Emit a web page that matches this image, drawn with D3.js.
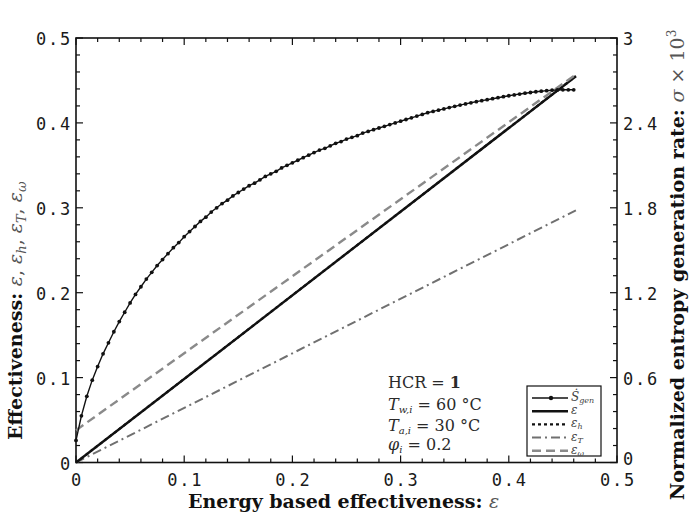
<!DOCTYPE html>
<html>
<head>
<meta charset="utf-8">
<script src="https://cdn.jsdelivr.net/npm/d3@7"></script>
<style>
  body { margin: 0; background: #fff; }
  svg { display: block; }
  .tick-lbl { font-family: "DejaVu Sans Mono", monospace; font-size: 17px; fill: #1a1a1a; letter-spacing: 1.8px; }
  .ttl { font-family: "DejaVu Serif", serif; font-size: 19px; fill: #111; }
  .note { font-family: "DejaVu Serif", serif; font-size: 16px; fill: #2a2a2a; }
  .leg { font-family: "DejaVu Serif", serif; font-size: 12px; fill: #444; font-style: italic; }
</style>
</head>
<body>
<svg id="chart" width="689" height="517"></svg>
<script>
"use strict";

// ---- data ----
var xTicks = [0, 0.1, 0.2, 0.3, 0.4, 0.5];
var yTicks = [0, 0.1, 0.2, 0.3, 0.4, 0.5];
var rTicks = [0, 0.6, 1.2, 1.8, 2.4, 3];

// entropy generation sigma x 10^3 (right axis), sampled every 0.005 in epsilon
var sgenX = d3.range(0, 0.4601, 0.005);
var sgenY = [0.156, 0.33, 0.468, 0.582, 0.678, 0.768, 0.846, 0.924, 0.996, 1.062,
    1.128, 1.188, 1.242, 1.296, 1.344, 1.392, 1.434, 1.476, 1.518, 1.554,
    1.596, 1.632, 1.668, 1.704, 1.734, 1.77, 1.8, 1.83, 1.854, 1.884,
    1.908, 1.932, 1.956, 1.974, 1.998, 2.022, 2.04, 2.058, 2.082, 2.1,
    2.118, 2.136, 2.154, 2.172, 2.19, 2.208, 2.22, 2.238, 2.256, 2.268,
    2.286, 2.298, 2.31, 2.328, 2.34, 2.352, 2.364, 2.376, 2.388, 2.4,
    2.412, 2.424, 2.436, 2.448, 2.46, 2.472, 2.481, 2.49, 2.499, 2.508,
    2.517, 2.526, 2.534, 2.542, 2.55, 2.557, 2.564, 2.571, 2.578, 2.585,
    2.592, 2.598, 2.604, 2.61, 2.615, 2.62, 2.624, 2.628, 2.631, 2.633,
    2.634, 2.634, 2.634];

// straight effectiveness lines: y at the two ends of effX
var effX   = [0, 0.462];
var effE   = [0, 0.455];
var effH   = [0, 0.455];
var effT   = [0, 0.297];
var effW   = [0.038, 0.457];

// ---- layout ----
var m = { left: 76, top: 38, right: 617, bottom: 462.5 };

var svg = d3.select("#chart");

var x  = d3.scaleLinear().domain([0, 0.5]).range([m.left, m.right]);
var y  = d3.scaleLinear().domain([0, 0.5]).range([m.bottom, m.top]);
var yr = d3.scaleLinear().domain([0, 3]).range([m.bottom, m.top]);

// ticks, pointing inward on all four sides
var minorX = d3.range(0, 0.5001, 0.02);
var gt = svg.append("g").attr("stroke", "#111").attr("stroke-width", 1.2);

function isMajor(v) { return Math.abs(v * 10 - Math.round(v * 10)) < 1e-6; }

minorX.forEach(function (v) {
    let len = isMajor(v) ? 7 : 4;
    gt.append("line").attr("x1", x(v)).attr("x2", x(v))
        .attr("y1", m.bottom).attr("y2", m.bottom - len);
    gt.append("line").attr("x1", x(v)).attr("x2", x(v))
        .attr("y1", m.top).attr("y2", m.top + len);
    gt.append("line").attr("y1", y(v)).attr("y2", y(v))
        .attr("x1", m.left).attr("x2", m.left + len);
    gt.append("line").attr("y1", y(v)).attr("y2", y(v))
        .attr("x1", m.right).attr("x2", m.right - len);
});

// frame
svg.append("rect")
    .attr("x", m.left).attr("y", m.top)
    .attr("width", m.right - m.left).attr("height", m.bottom - m.top)
    .attr("fill", "none").attr("stroke", "#111").attr("stroke-width", 1.6);

// tick labels
svg.selectAll(".xl").data(xTicks).enter().append("text")
    .attr("class", "tick-lbl")
    .attr("x", (d) => x(d) + 1).attr("y", m.bottom + 23)
    .attr("text-anchor", "middle")
    .text((d) => d === 0 ? "0" : d.toFixed(1));

svg.selectAll(".yl").data(yTicks).enter().append("text")
    .attr("class", "tick-lbl")
    .attr("x", m.left - 4).attr("y", (d) => y(d) + 7)
    .attr("text-anchor", "end")
    .text((d) => d === 0 ? "0" : d.toFixed(1));

svg.selectAll(".rl").data(rTicks).enter().append("text")
    .attr("class", "tick-lbl")
    .attr("x", m.right + 6).attr("y", (d) => yr(d) + (d === 0 ? 2 : 7))
    .attr("text-anchor", "start")
    .text((d) => (d === 0 || d === 3) ? String(d) : d.toFixed(1));

// ---- series ----
var line2 = d3.line().x((d) => x(d[0])).y((d) => y(d[1]));

function straight(ys) { return effX.map((v, i) => [v, ys[i]]); }

var gl = svg.append("g").attr("fill", "none");

gl.append("path").attr("d", line2(straight(effT)))
    .attr("stroke", "#707070").attr("stroke-width", 2)
    .attr("stroke-dasharray", "9,4,2,4");

gl.append("path").attr("d", line2(straight(effH)))
    .attr("stroke", "#111").attr("stroke-width", 2.2)
    .attr("stroke-dasharray", "3,3");

gl.append("path").attr("d", line2(straight(effE)))
    .attr("stroke", "#111").attr("stroke-width", 2.4);

gl.append("path").attr("d", line2(straight(effW)))
    .attr("stroke", "#8a8a8a").attr("stroke-width", 2.4)
    .attr("stroke-dasharray", "9,5");

var sgen = sgenX.map((v, i) => [v, sgenY[i]]);
var lineR = d3.line().x((d) => x(d[0])).y((d) => yr(d[1]));

gl.append("path").attr("d", lineR(sgen))
    .attr("stroke", "#111").attr("stroke-width", 1.4);

svg.append("g").selectAll("circle").data(sgen).enter().append("circle")
    .attr("cx", (d) => x(d[0])).attr("cy", (d) => yr(d[1]))
    .attr("r", 1.9).attr("fill", "#111");

// ---- annotation ----
var note = svg.append("g").attr("class", "note");
var t1 = note.append("text").attr("x", 388).attr("y", 388);
t1.append("tspan").text("HCR = ");
t1.append("tspan").attr("font-weight", "bold").text("1");

function subText(yy, main, sub, rest) {
    let t = note.append("text").attr("x", 388).attr("y", yy);
    t.append("tspan").attr("font-style", "italic").text(main);
    t.append("tspan").attr("font-style", "italic").attr("font-size", 10)
        .attr("dy", 3).text(sub);
    t.append("tspan").attr("dy", -3).text(rest);
}
subText(410, "T", "w,i", " = 60 \u00B0C");
subText(431, "T", "a,i", " = 30 \u00B0C");
subText(450, "\u03C6", "i", " = 0.2");

// ---- legend ----
var lg = svg.append("g");
lg.append("rect").attr("x", 527).attr("y", 386).attr("width", 74).attr("height", 70)
    .attr("fill", "#fff").attr("stroke", "#111").attr("stroke-width", 1.2);

var legItems = [
    { main: "S\u0307", sub: "gen", stroke: "#111", w: 1.4, dash: null, dot: true },
    { main: "\u03B5", sub: "", stroke: "#111", w: 2.4, dash: null },
    { main: "\u03B5", sub: "h", stroke: "#111", w: 2.2, dash: "3,3" },
    { main: "\u03B5", sub: "T", stroke: "#707070", w: 2, dash: "9,4,2,4" },
    { main: "\u03B5", sub: "\u03C9", stroke: "#8a8a8a", w: 2.4, dash: "9,5" }
];

legItems.forEach(function (d, i) {
    let yy = 398 + i * 13.2;
    lg.append("line").attr("x1", 532).attr("x2", 568).attr("y1", yy).attr("y2", yy)
        .attr("stroke", d.stroke).attr("stroke-width", d.w)
        .attr("stroke-dasharray", d.dash);
    if (d.dot) {
        lg.append("circle").attr("cx", 551).attr("cy", yy).attr("r", 2.2).attr("fill", "#111");
    }
    let t = lg.append("text").attr("class", "leg").attr("x", 571).attr("y", yy + 3);
    t.append("tspan").text(d.main);
    if (d.sub) {
        t.append("tspan").attr("font-size", 8).attr("dy", 2).text(d.sub);
    }
});

// ---- axis titles ----
var xt = svg.append("text").attr("class", "ttl")
    .attr("x", 188).attr("y", 508).attr("text-anchor", "start");
xt.append("tspan").attr("font-weight", "bold").text("Energy based effectiveness: ");
xt.append("tspan").attr("font-style", "italic").attr("fill", "#555").text("\u03B5");

var ytl = svg.append("text").attr("class", "ttl")
    .attr("transform", "translate(22,440) rotate(-90)")
    .attr("text-anchor", "start");
ytl.append("tspan").attr("font-weight", "bold").text("Effectiveness: ");
[["\u03B5", ""], ["\u03B5", "h"], ["\u03B5", "T"], ["\u03B5", "\u03C9"]].forEach(function (p, i) {
    ytl.append("tspan").attr("font-style", "italic").attr("fill", "#555").text(p[0]);
    if (p[1]) {
        ytl.append("tspan").attr("font-style", "italic").attr("fill", "#555")
            .attr("font-size", 13).attr("dy", 4).text(p[1]);
        ytl.append("tspan").attr("dy", -4).attr("fill", "#555").text(i < 3 ? ", " : "");
    } else {
        ytl.append("tspan").attr("fill", "#555").text(", ");
    }
});

var yrt = svg.append("text").attr("class", "ttl")
    .attr("transform", "translate(684,500) rotate(-90)")
    .attr("text-anchor", "start");
yrt.append("tspan").attr("font-weight", "bold").text("Normalized entropy generation rate: ");
yrt.append("tspan").attr("font-style", "italic").attr("fill", "#555").text("\u03C3");
yrt.append("tspan").attr("fill", "#555").text(" \u00D7 10");
yrt.append("tspan").attr("fill", "#555").attr("font-size", 12).attr("dy", -8).text("3");
</script>
</body>
</html>
